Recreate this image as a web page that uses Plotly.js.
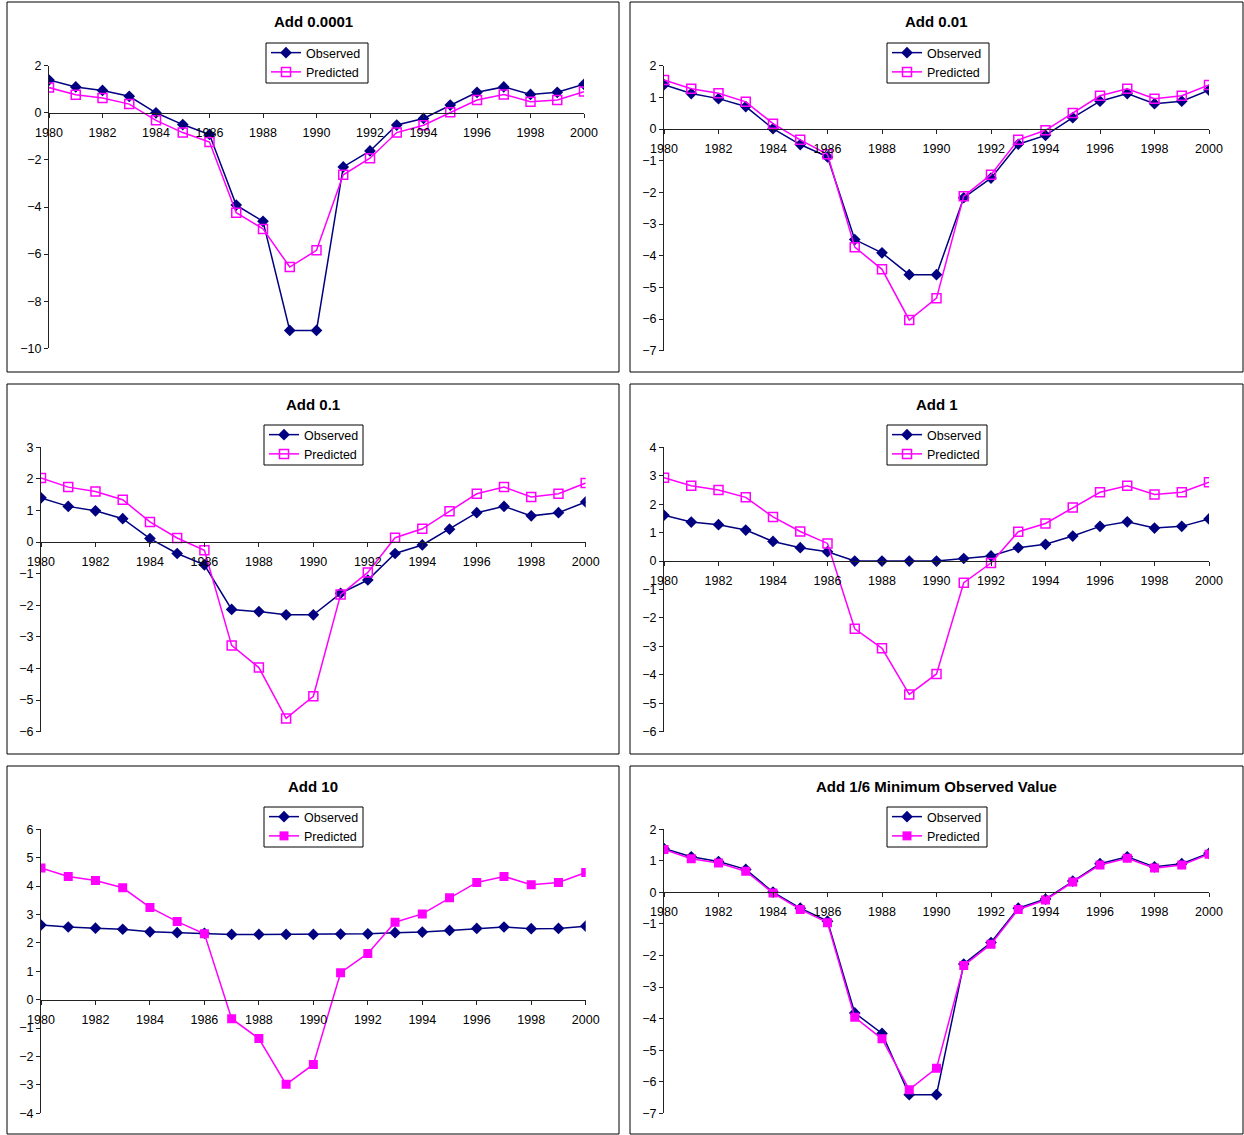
<!DOCTYPE html>
<html><head><meta charset="utf-8">
<script src="https://cdn.plot.ly/plotly-3.0.1.min.js"></script>
<style>html,body{margin:0;padding:0;background:#fff}</style>
</head><body><div id="chart" style="width:1244px;height:1135px"></div>
<script>
const years = [1980,1981,1982,1983,1984,1985,1986,1987,1988,1989,1990,1991,1992,1993,1994,1995,1996,1997,1998,1999,2000];
const titles = ["Add 0.0001","Add 0.01","Add 0.1","Add 1","Add 10","Add 1/6 Minimum Observed Value"];
const seriesNames = ["Observed","Predicted"];

const obs1  = [1.39,1.10,0.95,0.70,0.00,-0.50,-0.92,-3.92,-4.61,-9.24,-9.24,-2.30,-1.62,-0.52,-0.24,0.33,0.87,1.10,0.78,0.87,1.21];
const pred1 = [1.07,0.77,0.63,0.37,-0.32,-0.84,-1.24,-4.24,-4.93,-6.55,-5.84,-2.63,-1.93,-0.84,-0.53,0.02,0.54,0.78,0.47,0.54,0.90];
const obs2  = [1.40,1.12,0.96,0.71,0.01,-0.49,-0.88,-3.49,-3.91,-4.60,-4.60,-2.17,-1.55,-0.48,-0.20,0.36,0.88,1.12,0.80,0.88,1.23];
const pred2 = [1.55,1.27,1.13,0.86,0.17,-0.34,-0.80,-3.73,-4.43,-6.03,-5.34,-2.12,-1.44,-0.34,-0.04,0.51,1.05,1.27,0.96,1.05,1.39];
const obs3  = [1.40,1.13,0.99,0.74,0.11,-0.36,-0.72,-2.13,-2.20,-2.30,-2.30,-1.62,-1.20,-0.36,-0.09,0.41,0.93,1.13,0.83,0.93,1.27];
const pred3 = [2.03,1.74,1.60,1.34,0.64,0.13,-0.26,-3.27,-3.97,-5.58,-4.88,-1.66,-0.96,0.14,0.42,0.98,1.53,1.74,1.43,1.53,1.87];
const obs4  = [1.61,1.37,1.28,1.09,0.69,0.47,0.33,0.00,0.00,0.00,0.00,0.09,0.18,0.47,0.59,0.88,1.22,1.38,1.16,1.22,1.48];
const pred4 = [2.93,2.65,2.50,2.24,1.55,1.04,0.62,-2.38,-3.07,-4.69,-3.97,-0.76,-0.07,1.03,1.32,1.88,2.42,2.65,2.34,2.42,2.77];
const obs5  = [2.63,2.56,2.52,2.48,2.39,2.36,2.34,2.30,2.30,2.30,2.30,2.31,2.32,2.36,2.38,2.44,2.51,2.56,2.50,2.51,2.59];
const pred5 = [4.64,4.34,4.20,3.94,3.25,2.75,2.32,-0.67,-1.37,-2.98,-2.28,0.95,1.63,2.73,3.02,3.59,4.13,4.34,4.05,4.13,4.48];
const obs6  = [1.39,1.13,0.98,0.73,0.01,-0.50,-0.91,-3.82,-4.47,-6.41,-6.41,-2.27,-1.59,-0.50,-0.21,0.36,0.91,1.13,0.81,0.91,1.24];
const pred6 = [1.36,1.07,0.93,0.67,-0.02,-0.54,-0.96,-3.96,-4.64,-6.25,-5.57,-2.32,-1.64,-0.54,-0.24,0.33,0.87,1.08,0.77,0.87,1.21];

const yRanges = [[-10,2],[-7,2],[-6,3],[-6,4],[-4,6],[-7,2]];
const yDticks = [2,1,1,1,1,1];

// ---- layout geometry (pixels) ----
const W = 1244, H = 1135;
const observedAll = [obs1,obs2,obs3,obs4,obs5,obs6];
const predictedAll = [pred1,pred2,pred3,pred4,pred5,pred6];
const filledPred = [false,false,false,false,true,true];
const plotBoxes = [
  {x0:49, x1:584,   y0:65.7,  y1:348.3},
  {x0:664,x1:1209,  y0:65.7,  y1:350.7},
  {x0:41, x1:585.7, y0:447.3, y1:731.7},
  {x0:664,x1:1209,  y0:447.3, y1:731.7},
  {x0:41, x1:585.7, y0:829.3, y1:1113.3},
  {x0:664,x1:1209,  y0:829.3, y1:1113.3}
];
const panels = [
  {x0:7,  x1:619,  y0:2,   y1:372},
  {x0:630,x1:1243, y0:2,   y1:372},
  {x0:7,  x1:619,  y0:384, y1:754},
  {x0:630,x1:1243, y0:384, y1:754},
  {x0:7,  x1:619,  y0:766, y1:1134},
  {x0:630,x1:1243, y0:766, y1:1134}
];
const titleY = [22,22,404,404,786,786];
// legend boxes: left, top, right, bottom
const legendBox = [[266,43,368,83],[887,43,989,83],[264,425,363,465],[887,425,987,465],[264,807,363,847],[887,807,987,847]];

const FONT = "Liberation Sans, Arial, Helvetica, sans-serif";
const px = v => v / W;
const py = v => 1 - v / H;

const data = [];
const layout = {
  width: W, height: H,
  margin: {l:0,r:0,t:0,b:0},
  paper_bgcolor: '#fff', plot_bgcolor: 'rgba(0,0,0,0)',
  font: {family: FONT, size: 12, color: '#000'},
  showlegend: true,
  shapes: [], annotations: []
};

for (let i = 0; i < 6; i++) {
  const n = i + 1;
  const xa = n === 1 ? 'x' : 'x' + n;
  const ya = n === 1 ? 'y' : 'y' + n;
  const lg = n === 1 ? 'legend' : 'legend' + n;
  const b = plotBoxes[i];
  const yd = [py(b.y1), py(b.y0)];
  const r = yRanges[i];
  const zeroPos = yd[0] + (0 - r[0]) / (r[1] - r[0]) * (yd[1] - yd[0]);

  data.push({
    x: years, y: observedAll[i], name: seriesNames[0], type: 'scatter', mode: 'lines+markers',
    xaxis: xa, yaxis: ya, legend: lg,
    line: {color: '#000080', width: 1.5},
    marker: {symbol: 'diamond', size: 9, color: '#000080'}
  });
  data.push({
    x: years, y: predictedAll[i], name: seriesNames[1], type: 'scatter', mode: 'lines+markers',
    xaxis: xa, yaxis: ya, legend: lg,
    line: {color: '#FF00FF', width: 1.5},
    marker: filledPred[i]
      ? {symbol: 'square', size: 9, color: '#FF00FF'}
      : {symbol: 'square-open', size: 9, color: '#FF00FF', line: {width: 1.5, color: '#FF00FF'}}
  });

  const xKey = n === 1 ? 'xaxis' : 'xaxis' + n;
  const yKey = n === 1 ? 'yaxis' : 'yaxis' + n;
  layout[xKey] = {
    domain: [px(b.x0), px(b.x1)], range: [1980, 2000],
    anchor: 'free', position: zeroPos,
    showline: true, linecolor: '#222', linewidth: 1,
    ticks: 'outside', ticklen: 4, tickcolor: '#222', ticklabelstandoff: 4,
    tick0: 1980, dtick: 2, showgrid: false, zeroline: false,
    tickfont: {family: FONT, size: 12.5, color: '#000'}, fixedrange: true
  };
  layout[yKey] = {
    domain: yd, range: r, anchor: xa,
    showline: true, linecolor: '#222', linewidth: 1,
    ticks: 'outside', ticklen: 4, tickcolor: '#222',
    tick0: 0, dtick: yDticks[i], showgrid: false, zeroline: false,
    tickfont: {family: FONT, size: 12.5, color: '#000'}, fixedrange: true
  };
  const lb = legendBox[i];
  layout[lg] = {
    x: px(lb[0]), y: py(lb[1] - 5), xanchor: 'left', yanchor: 'top',
    bgcolor: 'rgba(0,0,0,0)', borderwidth: 0,
    font: {family: FONT, size: 12.5, color: '#000'}, tracegroupgap: 0
  };
  layout.shapes.push({type: 'rect', xref: 'paper', yref: 'paper',
    x0: px(lb[0]), x1: px(lb[2]), y0: py(lb[3]), y1: py(lb[1]),
    line: {color: '#000', width: 1}, fillcolor: '#fff', layer: 'below'});
  const p = panels[i];
  layout.shapes.push({type: 'rect', xref: 'paper', yref: 'paper',
    x0: px(p.x0), x1: px(p.x1), y0: py(p.y1), y1: py(p.y0),
    line: {color: '#000', width: 1}, fillcolor: 'rgba(0,0,0,0)'});
  layout.annotations.push({xref: 'paper', yref: 'paper',
    x: px((p.x0 + p.x1) / 2), y: py(titleY[i]), xanchor: 'center', yanchor: 'middle',
    text: '<b>' + titles[i] + '</b>', showarrow: false,
    font: {family: FONT, size: 15, color: '#000'}});
}

Plotly.newPlot('chart', data, layout, {staticPlot: true, displayModeBar: false});
</script></body></html>
